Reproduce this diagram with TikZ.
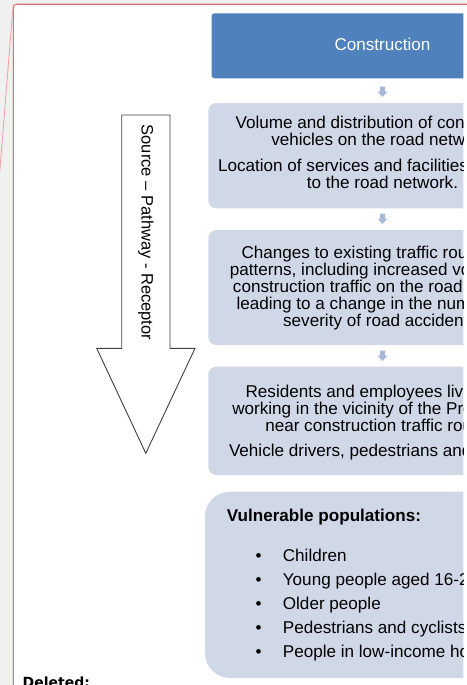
\documentclass[tikz,border=0pt]{standalone}
\usepackage{fontspec}
\setmainfont{Liberation Sans}
\newfontfamily\notefont{DejaVu Sans}
\usetikzlibrary{arrows.meta}

\definecolor{accentblue}{RGB}{79,129,189}
\definecolor{paleblue}{RGB}{208,216,232}
\definecolor{chevronblue}{RGB}{168,185,216}
\definecolor{framered}{RGB}{222,112,118}
\definecolor{leaderpink}{RGB}{234,160,165}
\definecolor{pagegray}{RGB}{240,240,240}

\tikzset{
  stagebox/.style={fill=paleblue, rounded corners=8pt},
  stagetext/.style={align=center, inner sep=0pt,
                    font=\fontsize{17.1}{17}\selectfont},
  downchevron/.style={fill=chevronblue},
}

%% small arrow between two stages
\newcommand{\stagearrow}[1]{%
  \fill[downchevron, shift={(382.5,#1)}] (-2.5,0) -- (2.5,0) -- (2.5,5)
       -- (5,5) -- (0,10.5) -- (-5,5) -- (-2.5,5) -- cycle;}

\begin{document}
\begin{tikzpicture}[x=1pt, y=-1pt]
\fill[pagegray] (0,0) rectangle (466,685);
\useasboundingbox (0,0) rectangle (466,685);

%% comment frame
\fill[white, rounded corners=3pt] (13.3,4.3) rectangle (480,700);
\draw[framered, line width=1.1pt, rounded corners=3pt]
     (13.3,700) -- (13.3,4.3) -- (480,4.3);
\draw[leaderpink, line width=0.8pt] (12.8,9) -- (-0.5,175);

\begin{scope}
\clip (0,0) rectangle (463.3,685);

%% stages (text nodes sit on their last baseline)
\fill[accentblue, rounded corners=3pt] (211.5,13.3) rectangle (553.5,78.3);
\node[stagetext, text=white] (construction) at (382.5,44) {Construction};

\stagearrow{86.5}
\fill[stagebox] (208.3,103) rectangle (556.7,208.3);
\node[stagetext, anchor=base] (volume) at (382.5,188.5)
  {Volume and distribution of construction\\
   vehicles on the road network.\\[9pt]
   Location of services and facilities in relation\\
   to the road network.};

\stagearrow{213.5}
\fill[stagebox] (208.3,230) rectangle (556.7,345);
\node[stagetext, anchor=base] (changes) at (382.5,326)
  {Changes to existing traffic routes and\\
   patterns, including increased volumes of\\
   construction traffic on the road network,\\
   leading to a change in the number and\\
   severity of road accidents.};

\stagearrow{350.5}
\fill[stagebox] (208.3,366.7) rectangle (556.7,475);
\node[stagetext, anchor=base] (residents) at (382.5,456)
  {Residents and employees living and\\
   working in the vicinity of the Project and\\
   near construction traffic routes.\\[8pt]
   Vehicle drivers, pedestrians and cyclists.};

\fill[stagebox, rounded corners=25pt] (205,491.7) rectangle (560,678);
\node[stagetext, anchor=base west] (vulnerable) at (226.7,521)
  {\bfseries Vulnerable populations:};
\node[stagetext, align=left, anchor=base west] (groups) at (255.5,657)
  {\makebox[27.2pt][l]{\textbullet}Children\\[7pt]
   \makebox[27.2pt][l]{\textbullet}Young people aged 16-24\\[7pt]
   \makebox[27.2pt][l]{\textbullet}Older people\\[7pt]
   \makebox[27.2pt][l]{\textbullet}Pedestrians and cyclists\\[7pt]
   \makebox[27.2pt][l]{\textbullet}People in low-income households};
\end{scope}

%% source - pathway - receptor arrow
\draw[black!75, line width=0.9pt, fill=white]
     (121.7,115) -- (170,115) -- (170,348.3) -- (195,348.3)
     -- (145.8,453.3) -- (96.7,348.3) -- (121.7,348.3) -- cycle;
\node[rotate=-90, inner sep=0pt,
      font=\fontsize{16.5}{17}\selectfont] (spr) at (146,232.5)
     {Source – Pathway - Receptor};

\node[anchor=base west, inner sep=0pt,
      font=\notefont\bfseries\fontsize{14}{15}\selectfont] (deleted)
     at (22.5,687) {Deleted:};
\end{tikzpicture}
\end{document}
